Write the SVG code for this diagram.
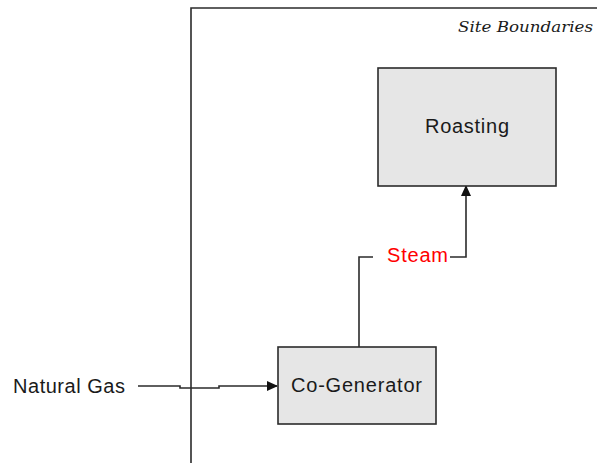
<svg xmlns="http://www.w3.org/2000/svg" width="597" height="463" viewBox="0 0 597 463">
<style>
.box{fill:#e6e6e6;stroke:#2b2b2b;stroke-width:1.6}
.ln{fill:none;stroke:#2b2b2b;stroke-width:1.6}
.lbl{font-family:"Liberation Sans",Arial,sans-serif;font-size:20px;fill:#1a1a1a}
</style>
<defs>
<marker id="arr" markerWidth="11" markerHeight="11" refX="10" refY="5.5" orient="auto" markerUnits="userSpaceOnUse">
<path d="M0,0.5 L11,5.5 L0,10.5 Z" fill="#111"/>
</marker>
</defs>
<rect width="597" height="463" fill="#fff"/>
<g id="site-boundary">
<path class="ln" d="M191,463 V8 H597"/>
<text x="458" y="32" font-family="'DejaVu Serif','Liberation Serif',serif" font-style="italic" font-size="15" fill="#1a1a1a" textLength="135" lengthAdjust="spacingAndGlyphs">Site Boundaries</text>
</g>
<g id="connectors">
<path class="ln" d="M138,386 H180 V388 H219 V386 H277" marker-end="url(#arr)"/>
<path class="ln" d="M359,347 V257 H373"/>
<path class="ln" d="M450,257 H466 V186" marker-end="url(#arr)"/>
<text class="lbl" x="387" y="262" style="fill:#ff0000" textLength="61" lengthAdjust="spacing">Steam</text>
</g>
<g id="natural-gas">
<text class="lbl" x="13" y="393" textLength="112" lengthAdjust="spacing">Natural Gas</text>
</g>
<g id="roasting">
<rect class="box" x="378" y="68" width="178" height="118"/>
<text class="lbl" x="425" y="133" textLength="84" lengthAdjust="spacing">Roasting</text>
</g>
<g id="co-generator">
<rect class="box" x="278" y="347" width="158" height="77"/>
<text class="lbl" x="291" y="392" textLength="131" lengthAdjust="spacing">Co-Generator</text>
</g>
</svg>
